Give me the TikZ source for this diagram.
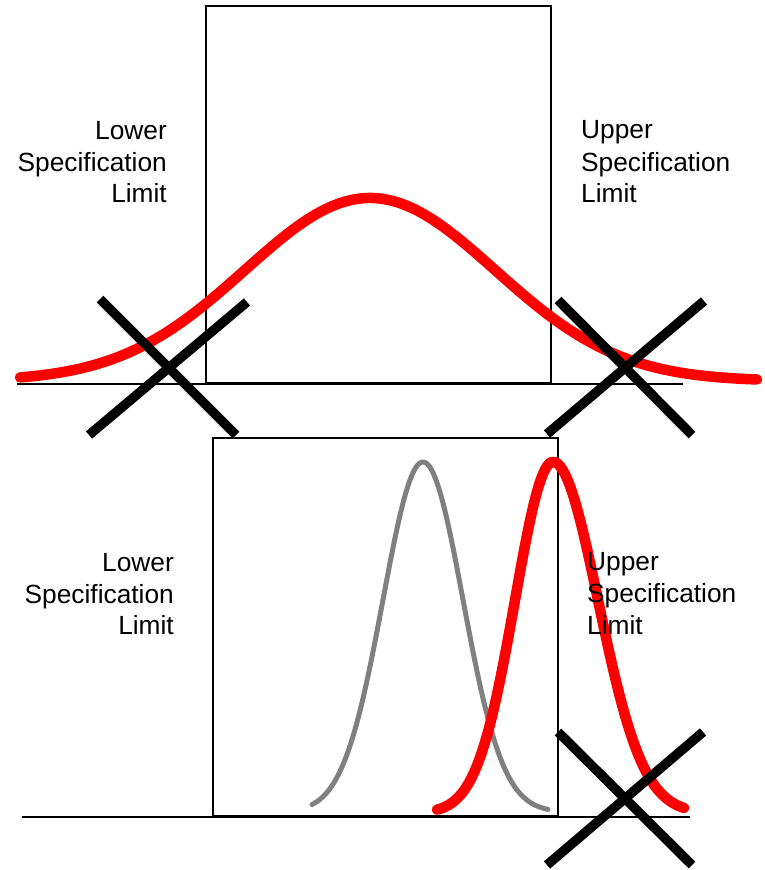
\documentclass[tikz,border=0pt]{standalone}
\usepackage{fontspec}
\setmainfont{Liberation Sans}
\begin{document}
\begin{tikzpicture}[x=1pt,y=-1pt,
  frame/.style={draw=black,line width=2.5pt},
  axisline/.style={draw=black,line width=2.5pt},
  redcurve/.style={draw=red,line width=10.5pt,line cap=round,line join=round},
  graycurve/.style={draw=black!50,line width=5pt,line cap=round,line join=round},
  xmark/.style={draw=black,line width=9.5pt},
  lbl/.style={inner sep=0pt,font=\fontsize{26.3}{31.5}\selectfont}]
\useasboundingbox (0,0) rectangle (765,870);

% ---------- top panel ----------
\draw[frame] (206,6) rectangle (551,383);
\draw[axisline] (17,384) -- (683,384);
\draw[redcurve] plot[domain=20:757,samples=200] (\x,{381-183*exp(-0.5*((\x-370)/125)^2)});

\node[lbl,anchor=base east] (tl1) at (167,139) {Lower};
\node[lbl,anchor=base east] (tl2) at (167,171) {Specification};
\node[lbl,anchor=base east] (tl3) at (167,202) {Limit};
\node[lbl,anchor=base west] (tr1) at (581,138) {Upper};
\node[lbl,anchor=base west] (tr2) at (581,171) {Specification};
\node[lbl,anchor=base west] (tr3) at (581,202) {Limit};

\coordinate (xa1) at (100,299); \coordinate (xa2) at (236,435);
\coordinate (xa3) at (89,435);  \coordinate (xa4) at (247,302);
\draw[xmark] (xa1) -- (xa2);
\draw[xmark] (xa3) -- (xa4);
\coordinate (xb1) at (558,300); \coordinate (xb2) at (692,435);
\coordinate (xb3) at (547,434); \coordinate (xb4) at (704,301);
\draw[xmark] (xb1) -- (xb2);
\draw[xmark] (xb3) -- (xb4);

% ---------- bottom panel ----------
\draw[frame] (213,438) rectangle (558,816);
\draw[axisline] (22,817) -- (690,817);
\draw[graycurve] plot[domain=312:548,samples=150] (\x,{812-350*exp(-0.5*((\x-423)/40)^2)});
\draw[redcurve] plot[domain=437:553,samples=100] (\x,{813-351*exp(-0.5*((\x-553)/38)^2)})
   -- plot[domain=553:684,samples=100] (\x,{813-351*exp(-0.5*((\x-553)/45)^2)});

\node[lbl,anchor=base east] (bl1) at (174,571) {Lower};
\node[lbl,anchor=base east] (bl2) at (174,603) {Specification};
\node[lbl,anchor=base east] (bl3) at (174,634) {Limit};
\node[lbl,anchor=base west] (br1) at (587,570) {Upper};
\node[lbl,anchor=base west] (br2) at (587,602) {Specification};
\node[lbl,anchor=base west] (br3) at (587,634) {Limit};

\coordinate (xc1) at (558,732); \coordinate (xc2) at (692,865);
\coordinate (xc3) at (547,865); \coordinate (xc4) at (703,732);
\draw[xmark] (xc1) -- (xc2);
\draw[xmark] (xc3) -- (xc4);
\end{tikzpicture}
\end{document}
